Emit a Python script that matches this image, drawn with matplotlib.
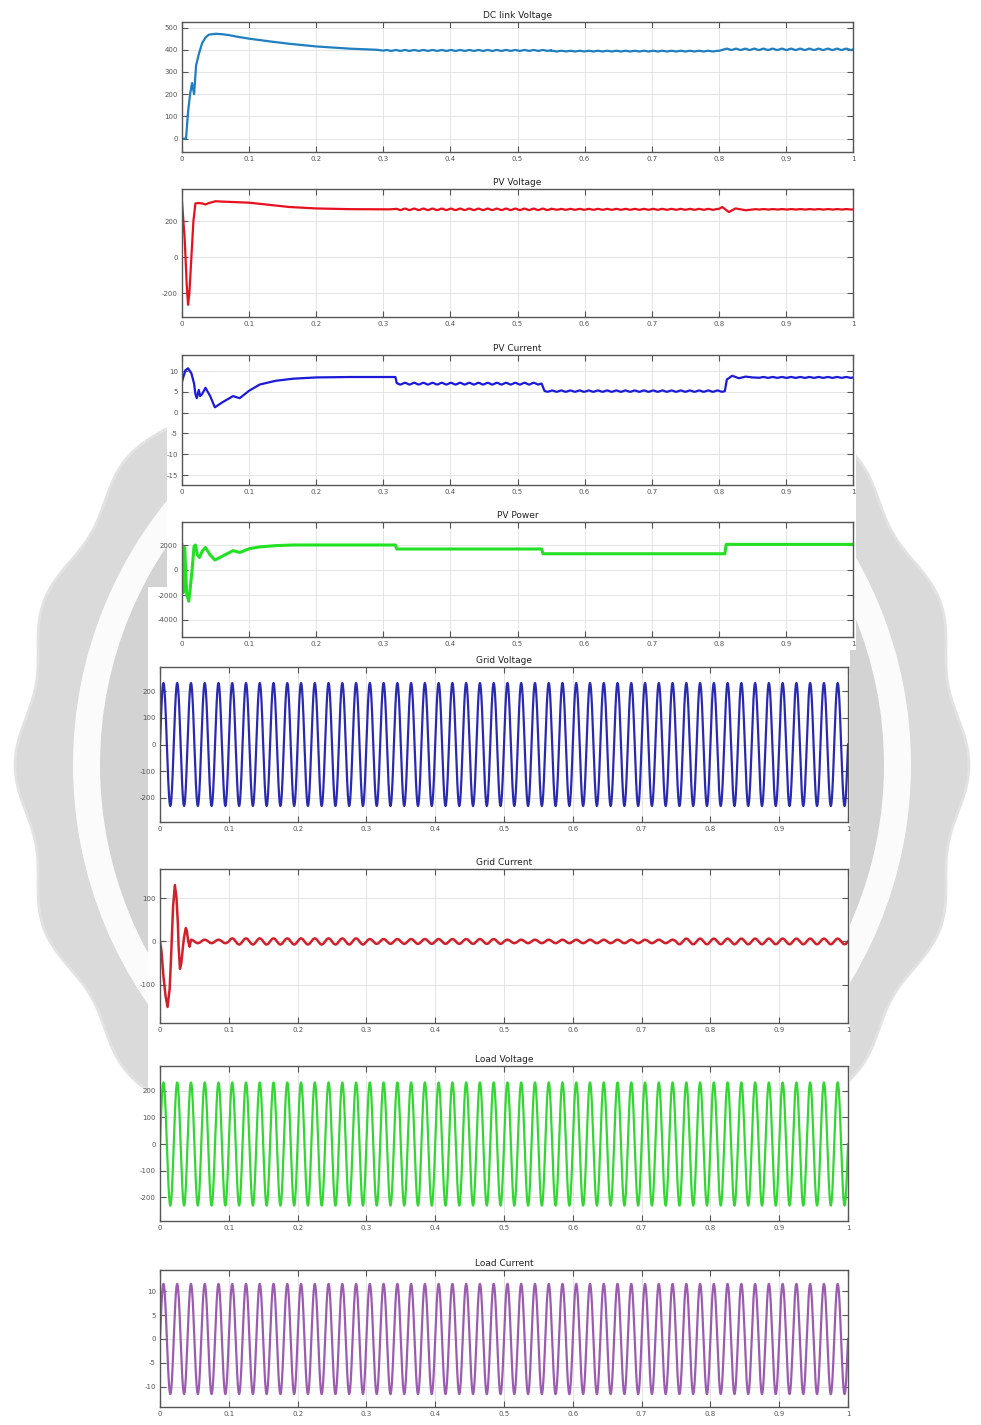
import numpy as np
import matplotlib.pyplot as plt
from matplotlib.patches import Polygon, Circle, Rectangle

# time axis shared by every panel
x_ticks = [0, 0.1, 0.2, 0.3, 0.4, 0.5, 0.6, 0.7, 0.8, 0.9, 1.0]
x_tick_labels = ['0', '0.1', '0.2', '0.3', '0.4', '0.5', '0.6', '0.7', '0.8', '0.9', '1']

# DC link voltage: start-up transient, then steady stretches (start, end, level, ripple)
dc_t = [0, 0.006, 0.009, 0.012, 0.015, 0.018, 0.021, 0.025, 0.03, 0.035, 0.04, 0.05,
        0.06, 0.07, 0.08, 0.1, 0.13, 0.16, 0.2, 0.25, 0.29]
dc_v = [0, 0, 120, 200, 250, 200, 330, 380, 430, 455, 468, 472,
        470, 466, 460, 450, 438, 427, 415, 405, 400]
dc_seg = [(0.30, 0.55, 397, 2.0), (0.55, 0.80, 394, 1.5), (0.81, 1.00, 402, 3.0)]

# PV voltage
pv_v_t = [0, 0.004, 0.007, 0.009, 0.011, 0.014, 0.017, 0.02, 0.025, 0.03, 0.035, 0.04,
          0.05, 0.06, 0.08, 0.1, 0.13, 0.16, 0.2, 0.25, 0.31, 0.805, 0.815, 0.825, 0.84, 0.855]
pv_v = [305, 100, -150, -265, -200, 0, 200, 298, 300, 298, 292, 300,
        310, 308, 305, 302, 290, 278, 270, 266, 265, 278, 250, 270, 260, 266]
pv_v_seg = [(0.32, 0.55, 265, 4.0), (0.55, 0.80, 265, 2.5), (0.86, 1.00, 265, 1.5)]

# PV current
pv_i_t = [0, 0.005, 0.009, 0.014, 0.018, 0.02, 0.022, 0.025, 0.027, 0.03, 0.035, 0.042,
          0.049, 0.06, 0.076, 0.086, 0.1, 0.116, 0.14, 0.166, 0.2, 0.25, 0.318,
          0.536, 0.809, 0.812, 0.82, 0.83, 0.84, 0.85]
pv_i = [7.5, 10.2, 10.7, 9.5, 7.0, 4.5, 3.5, 5.5, 4.0, 4.5, 6.0, 4.0,
        1.3, 2.5, 4.0, 3.5, 5.3, 6.8, 7.7, 8.2, 8.5, 8.6, 8.6,
        7.0, 5.2, 8.0, 8.9, 8.3, 8.7, 8.5]
pv_i_seg = [(0.32, 0.534, 7.0, 0.2), (0.54, 0.807, 5.2, 0.15), (0.86, 1.00, 8.5, 0.1)]

# PV power
pv_p_t = [0, 0.002, 0.004, 0.007, 0.01, 0.012, 0.015, 0.018, 0.02, 0.023, 0.026, 0.03,
          0.035, 0.042, 0.049, 0.06, 0.076, 0.086, 0.1, 0.116, 0.14, 0.166, 0.318, 0.32,
          0.536, 0.538, 0.809, 0.811, 1.0]
pv_p = [2000, -1800, 1800, -1900, -2500, -1600, 0, 1900, 2000, 1200, 1000, 1500,
        1800, 1200, 800, 1100, 1550, 1400, 1700, 1850, 1950, 2000, 2000, 1680,
        1680, 1300, 1300, 2050, 2050]
pv_p_seg = []

# grid current: inrush, then 50 Hz ripple around zero
grid_i_t = [0, 0.002, 0.005, 0.008, 0.011, 0.014, 0.016, 0.019, 0.0216, 0.024, 0.026,
            0.027, 0.029, 0.031, 0.0335, 0.035, 0.0375, 0.039, 0.041, 0.043]
grid_i = [0, -20, -80, -125, -151, -110, -40, 80, 130, 100, 40,
          -10, -63, -50, -10, 10, 31, 25, 0, -12]
grid_i_seg = [(0.045, 0.10, 0, 4.0), (0.10, 0.30, 0, 7.0), (0.30, 0.50, 0, 5.5),
              (0.50, 0.75, 0, 4.0), (0.75, 1.00, 0, 6.5)]

# grid / load waveforms (peak values)
grid_v_seg = [(0, 1.0, 0, 230)]
load_v_seg = [(0, 1.0, 0, 232)]
load_i_seg = [(0, 1.0, 0, 11.5)]

mains_period = 0.02
dc_ripple_period = 0.0137

W, H = 981, 1425
fig = plt.figure(figsize=(W / 100, H / 100), dpi=100)
fig.patch.set_facecolor('white')

# seal in the background
bg = fig.add_axes([0, 0, 1, 1])
bg.set_xlim(0, W)
bg.set_ylim(H, 0)
bg.axis('off')
cx, cy = 492, 765
th = np.linspace(0, 2 * np.pi, 3000)
r_out = 470 + 7 * np.cos(18 * th)
bg.add_patch(Polygon(np.column_stack([cx + r_out * np.cos(th), cy + r_out * np.sin(th)]),
                     closed=True, fc='#dadada', ec='#e2e2e2', lw=2))
bg.add_patch(Circle((cx, cy), 419, fc='#fbfbfb', ec='none'))
bg.add_patch(Circle((cx, cy), 392, fc='#d3d3d3', ec='none'))
bg.add_patch(Rectangle((167, 0), 689, 650, fc='white', ec='none'))
bg.add_patch(Rectangle((148, 587), 702, 838, fc='white', ec='none'))

narrow = ['Liberation Sans Narrow', 'DejaVu Sans']


def build(key_t, key_v, segs, period):
    ts = list(key_t)
    vs = list(key_v)
    for t0, t1, level, amp in segs:
        tt = np.linspace(t0, t1, int((t1 - t0) * 5000) + 2)
        ts.extend(tt)
        vs.extend(level + amp * np.sin(2 * np.pi * tt / period))
    order = np.argsort(ts, kind='stable')
    return np.asarray(ts)[order], np.asarray(vs)[order]


def panel(left, right, top, bottom, title, yticks, ylim, color, t, v, lw=1.6):
    ax = fig.add_axes([left / W, 1 - bottom / H, (right - left) / W, (bottom - top) / H])
    ax.plot(t, v, color=color, lw=lw, solid_joinstyle='round')
    ax.set_xlim(0, 1)
    ax.set_ylim(*ylim)
    ax.set_xticks(x_ticks)
    ax.set_xticklabels(x_tick_labels)
    ax.set_yticks(yticks)
    ax.set_yticklabels([str(y) for y in yticks])
    ax.grid(True, color='#e4e4e4', lw=0.7)
    ax.set_axisbelow(True)
    ax.tick_params(direction='in', top=True, right=True, length=4, width=0.8,
                   colors='#555555', labelsize=5, pad=3)
    for lab in ax.get_xticklabels() + ax.get_yticklabels():
        lab.set_family(narrow)
    for s in ax.spines.values():
        s.set_color('#555555')
        s.set_linewidth(1.0)
    ax.set_title(title, fontsize=6.5, pad=3, color='#222222', family=narrow)
    return ax


t, v = build(dc_t, dc_v, dc_seg, dc_ripple_period)
panel(182, 853, 22, 152, 'DC link Voltage', [0, 100, 200, 300, 400, 500], (-60, 525), '#1f7fc0', t, v)

t, v = build(pv_v_t, pv_v, pv_v_seg, dc_ripple_period)
panel(182, 853, 189, 317, 'PV Voltage', [-200, 0, 200], (-333, 378), '#e8101e', t, v)

t, v = build(pv_i_t, pv_i, pv_i_seg, dc_ripple_period)
panel(182, 853, 355, 485, 'PV Current', [-15, -10, -5, 0, 5, 10], (-17.4, 13.9), '#1a1ad8', t, v)

t, v = build(pv_p_t, pv_p, pv_p_seg, dc_ripple_period)
panel(182, 853, 522, 637, 'PV Power', [-4000, -2000, 0, 2000], (-5360, 3840), '#22e022', t, v, lw=2.2)

t, v = build([], [], grid_v_seg, mains_period)
panel(160, 848, 667, 822, 'Grid Voltage', [-200, -100, 0, 100, 200], (-290, 290), '#2a2ab0', t, v)

t, v = build(grid_i_t, grid_i, grid_i_seg, mains_period)
panel(160, 848, 869, 1023, 'Grid Current', [-100, 0, 100], (-188, 167), '#d0202a', t, v, lw=1.8)

t, v = build([], [], load_v_seg, mains_period)
panel(160, 848, 1066, 1221, 'Load Voltage', [-200, -100, 0, 100, 200], (-290, 294), '#33d633', t, v)

t, v = build([], [], load_i_seg, mains_period)
panel(160, 848, 1270, 1407, 'Load Current', [-10, -5, 0, 5, 10], (-14.2, 14.4), '#9b5cb0', t, v)

fig.savefig('out.png', dpi=100)
